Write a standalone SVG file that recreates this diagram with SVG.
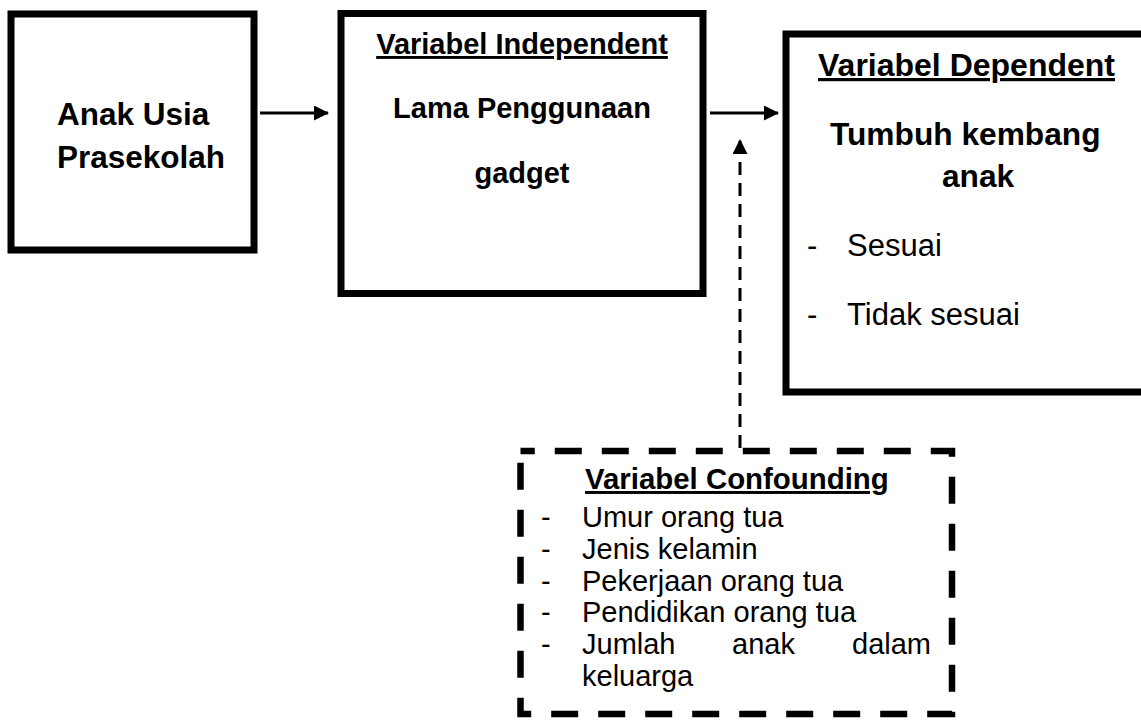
<svg xmlns="http://www.w3.org/2000/svg" width="1141" height="721" viewBox="0 0 1141 721">
<style>
.box{fill:none;stroke:#000;stroke-width:7}
.dbox{fill:none;stroke:#000;stroke-width:6.5;stroke-dasharray:27 20}
.b{font-family:"Liberation Sans",Arial,sans-serif;font-weight:bold;fill:#000}
.r{font-family:"Liberation Sans",Arial,sans-serif;fill:#000}
.conn{stroke:#000;stroke-width:3;fill:none}
.dash{stroke-dasharray:13 8}
</style>
<defs>
<marker id="ah" markerUnits="userSpaceOnUse" markerWidth="15" markerHeight="16" refX="14" refY="7.5" orient="auto">
<path d="M0,0 L15,7.5 L0,15 Z" fill="#000"/>
</marker>
</defs>
<rect width="1141" height="721" fill="#fff"/>
<g id="node-anak">
<rect class="box" x="11" y="14" width="243" height="236"/>
<text class="b" font-size="31.5" x="57" y="125">Anak Usia</text>
<text class="b" font-size="31.5" x="57" y="168">Prasekolah</text>
</g>
<g id="node-independent">
<rect class="box" x="341" y="13.5" width="362" height="280"/>
<text class="b" font-size="29" x="522" y="54" text-anchor="middle" text-decoration="underline">Variabel Independent</text>
<text class="b" font-size="29" x="522" y="118" text-anchor="middle">Lama Penggunaan</text>
<text class="b" font-size="29" x="522" y="183" text-anchor="middle">gadget</text>
</g>
<g id="node-dependent">
<rect class="box" x="786" y="34" width="400" height="358"/>
<text class="b" font-size="32" x="818" y="76" text-decoration="underline">Variabel Dependent</text>
<text class="b" font-size="31.7" x="830" y="145">Tumbuh kembang</text>
<text class="b" font-size="31.7" x="942" y="187">anak</text>
<text class="r" font-size="31" x="807" y="256">-</text>
<text class="r" font-size="31" x="847" y="256">Sesuai</text>
<text class="r" font-size="31" x="807" y="325">-</text>
<text class="r" font-size="31" x="847" y="325">Tidak sesuai</text>
</g>
<g id="node-confounding">
<rect class="dbox" x="520.5" y="451" width="431.5" height="263" stroke-dashoffset="12.7"/>
<text class="b" font-size="29.4" x="585" y="489" text-decoration="underline">Variabel Confounding</text>
<g class="r" font-size="29">
<text x="541" y="527">-</text><text x="582" y="527">Umur orang tua</text>
<text x="541" y="559">-</text><text x="582" y="559">Jenis kelamin</text>
<text x="541" y="591">-</text><text x="582" y="591">Pekerjaan orang tua</text>
<text x="541" y="622">-</text><text x="582" y="622">Pendidikan orang tua</text>
<text x="541" y="654">-</text><text x="582" y="654">Jumlah</text><text x="732" y="654">anak</text><text x="852" y="654">dalam</text>
<text x="582" y="686">keluarga</text>
</g>
</g>
<g id="connectors">
<line class="conn" x1="260" y1="113" x2="328" y2="113" marker-end="url(#ah)"/>
<line class="conn" x1="710" y1="113" x2="778" y2="113" marker-end="url(#ah)"/>
<line class="conn dash" x1="740" y1="448" x2="740" y2="140" marker-end="url(#ah)"/>
</g>
</svg>
